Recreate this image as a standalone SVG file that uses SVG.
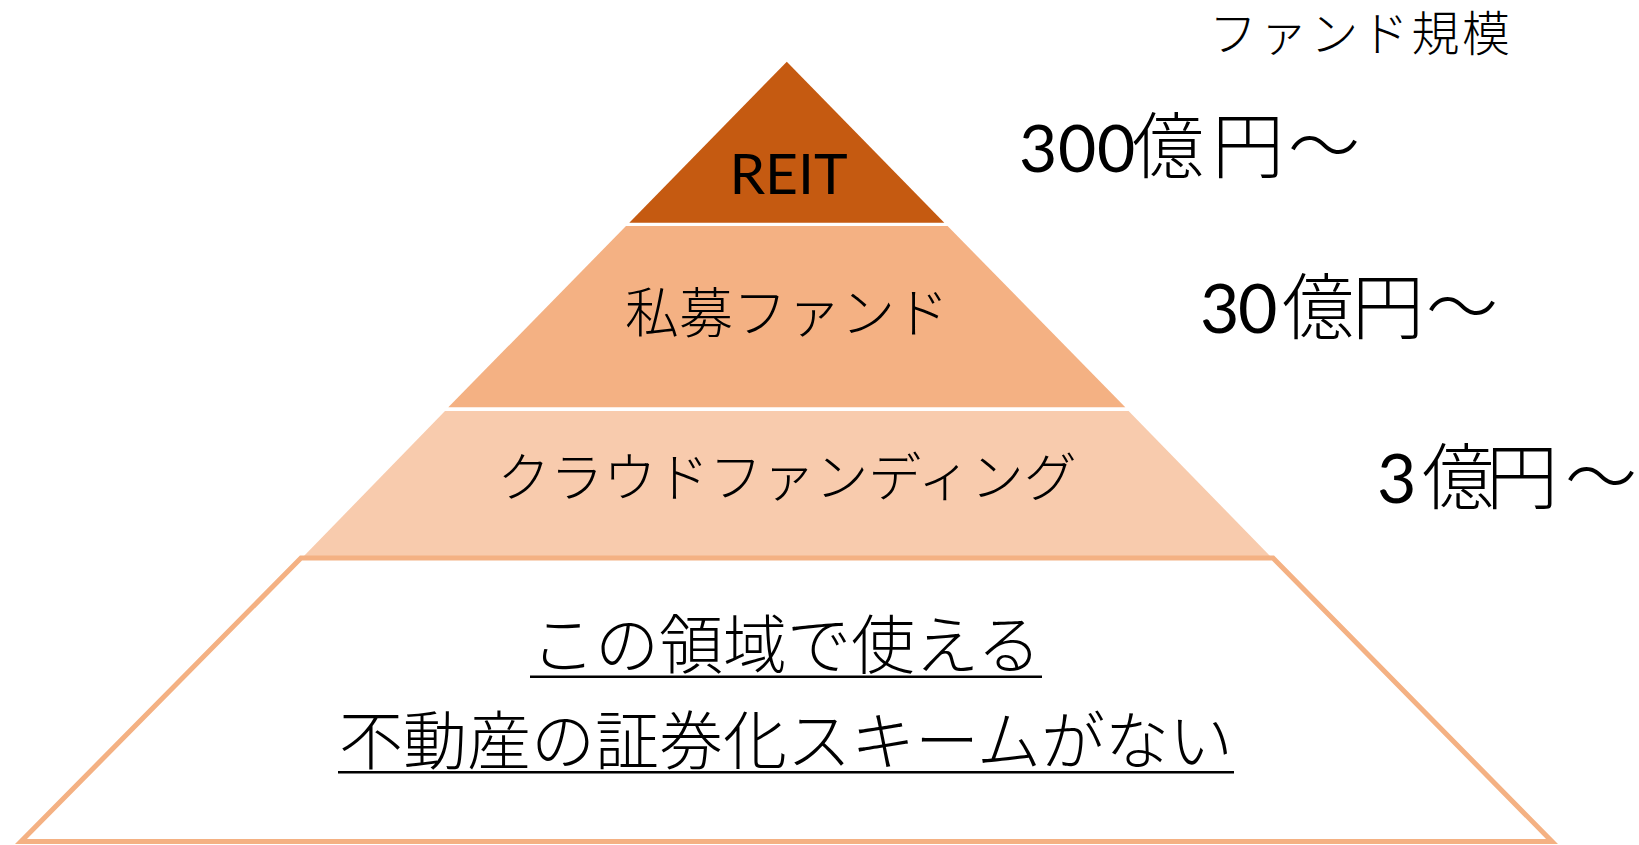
<svg xmlns="http://www.w3.org/2000/svg" width="1639" height="845" viewBox="0 0 1639 845">
  <style>
    .jp { font-family: "Noto Sans CJK JP", "Noto Sans", sans-serif; font-weight: 300; fill: #000000; }
    .num { font-family: Lato, "Noto Sans", sans-serif; font-weight: 400; }
    .t1 { fill: #C55A11; }
    .t2 { fill: #F4B183; }
    .t3 { fill: #F8CBAD; }
    .base { fill: #FFFFFF; stroke: #F4B183; stroke-width: 5; stroke-linejoin: miter; stroke-miterlimit: 10; }
    .ul { stroke: #000000; stroke-width: 2.6; }
  </style>
  <rect width="1639" height="845" fill="#FFFFFF"/>
  <g id="tier-crowdfunding">
    <polygon class="t3" points="445,411 1128.6,411 1272,558 302,558"/>
    <text class="jp" x="787" y="497" font-size="53" text-anchor="middle">クラウドファンディング</text>
  </g>
  <g id="tier-base">
    <polygon class="base" points="301,558 1273,558 1552,841.5 21,841.5"/>
    <text class="jp" x="786" y="668" font-size="64" text-anchor="middle">この領域で使える</text>
    <line class="ul" x1="530" y1="676.7" x2="1042" y2="676.7"/>
    <text class="jp" x="786" y="764" font-size="64" text-anchor="middle">不動産の証券化スキームがない</text>
    <line class="ul" x1="338" y1="772.3" x2="1234" y2="772.3"/>
  </g>
  <g id="tier-private">
    <polygon class="t2" points="626,226 947.6,226 1125.3,407.3 448.3,407.3"/>
    <text class="jp" x="787" y="333" font-size="54" text-anchor="middle">私募ファンド</text>
  </g>
  <g id="tier-reit">
    <polygon class="t1" points="786.8,61.7 944.3,222.7 629.3,222.7"/>
    <text class="num" x="788.5" y="194" font-size="57" text-anchor="middle" fill="#000000">REIT</text>
  </g>
  <g id="label-scale">
    <text class="jp" y="51" font-size="48" x="1209 1259.6 1310.2 1360.8 1411.4 1462">ファンド規模</text>
  </g>
  <g id="label-300">
    <text class="jp" y="172"><tspan class="num" font-size="66" x="1019 1058 1097">300</tspan><tspan font-size="72" x="1132 1212 1288">億円～</tspan></text>
  </g>
  <g id="label-30">
    <text class="jp" y="333"><tspan class="num" font-size="68" x="1200 1238">30</tspan><tspan font-size="72" x="1282 1352 1426">億円～</tspan></text>
  </g>
  <g id="label-3">
    <text class="jp" y="503"><tspan class="num" font-size="68" x="1377">3</tspan><tspan font-size="72" x="1422 1486 1565">億円～</tspan></text>
  </g>
  <g id="connectors"/>
</svg>
